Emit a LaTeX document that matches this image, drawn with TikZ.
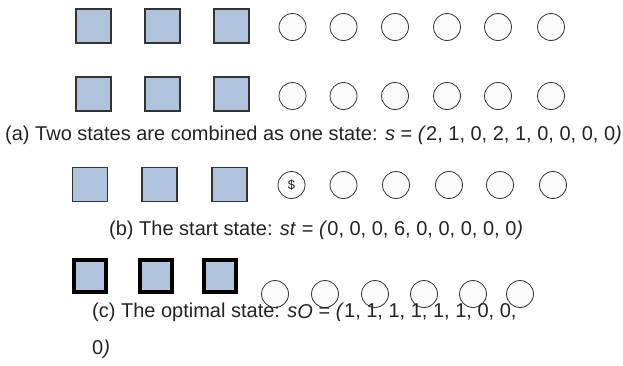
\documentclass[tikz,border=0pt]{standalone}
\usepackage{fontspec}
\setmainfont{Liberation Sans}
\definecolor{sqfill}{RGB}{176,196,222}
\definecolor{txt}{RGB}{35,35,35}
\begin{document}
\begin{tikzpicture}[x=1pt,y=-1pt,
  sq/.style={draw=black!80,line width=1.2pt,fill=sqfill,minimum width=35pt,minimum height=34pt,inner sep=0pt},
  sqthick/.style={draw=black,line width=4pt,fill=sqfill,minimum width=32pt,minimum height=32pt,inner sep=0pt},
  ci/.style={circle,draw=black!80,line width=0.8pt,fill=black!2,minimum size=27pt,inner sep=0pt},
  captext/.style={text=txt,font=\fontsize{20}{24}\selectfont,inner sep=0pt,anchor=west}]
\useasboundingbox (0,0) rectangle (623,365);
% row 1
\foreach \x/\n in {93.5/1,162.5/2,231.5/3} \node[sq] (a\n) at (\x,26) {};
\foreach \x/\n in {292.5/1,343.5/2,395/3,447/4,498/5,551/6} \node[ci] (ac\n) at (\x,27) {};
% row 2
\foreach \x/\n in {93.5/1,162.5/2,231.5/3} \node[sq] (b\n) at (\x,94) {};
\foreach \x/\n in {292.5/1,343.5/2,395/3,447/4,498/5,551/6} \node[ci] (bc\n) at (\x,96) {};
\node[captext] (capa) at (5,135) {(a) Two states are combined as one state: \textit{s} = \textit{(}2, 1, 0, 2, 1, 0, 0, 0, 0\textit{)}};
% row 3
\foreach \x/\n in {90/1,159.5/2,229.5/3} \node[sq] (c\n) at (\x,184.5) {};
\foreach \x/\n in {291.5/1,343.5/2,396/3,449/4,500/5,553/6} \node[ci] (cc\n) at (\x,185) {};
\node[font=\fontsize{13}{15}\selectfont,text=txt] at (cc1) {\$};
\node[captext] (capb) at (109,230) {(b) The start state: \textit{st} = \textit{(}0, 0, 0, 6, 0, 0, 0, 0, 0\textit{)}};
% row 4
\foreach \x/\n in {89.5/1,155.5/2,220/3} \node[sqthick] (d\n) at (\x,275.5) {};
\foreach \x/\n in {275/1,325/2,375/3,424/4,473/5,520/6} \node[ci] (dc\n) at (\x,294) {};
\node[captext] (capc) at (92,312) {(c) The optimal state: \textit{s}\raisebox{-1.5pt}{\textit{O}} = \textit{(}1, 1, 1, 1, 1, 1, 0, 0,};
\node[captext] (capc2) at (92,349) {0\textit{)}};
\end{tikzpicture}
\end{document}
